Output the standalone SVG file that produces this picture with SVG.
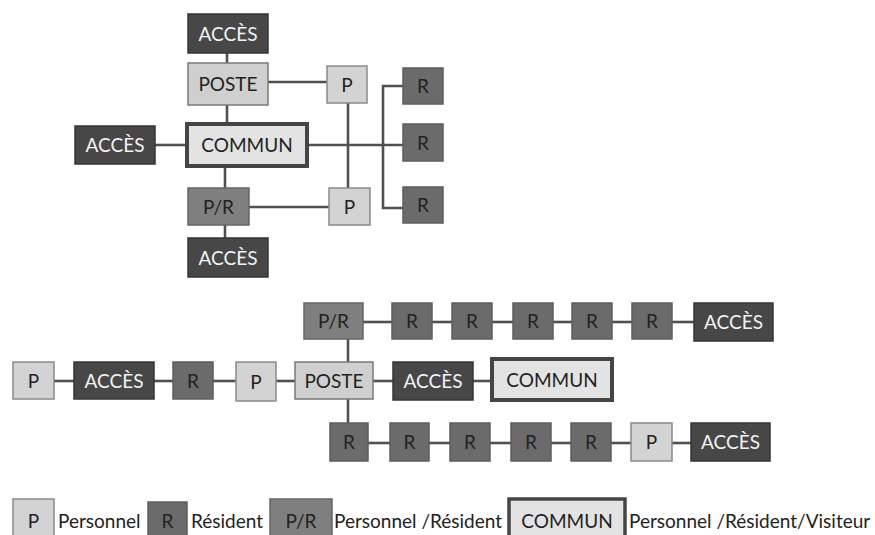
<svg xmlns="http://www.w3.org/2000/svg" width="875" height="535" viewBox="0 0 875 535">
<style>
text{font-family:Lato,"Open Sans","Liberation Sans",sans-serif;font-size:19px;text-anchor:middle;fill:#222}
.acc rect{fill:#474747;stroke:#363636;stroke-width:1.5}
.acc text{fill:#f2f2f2}
.p rect{fill:#d3d3d3;stroke:#8a8a8a;stroke-width:1.5}
.r rect{fill:#6b6b6b;stroke:#5e5e5e;stroke-width:1.5}
.pr rect{fill:#7f7f7f;stroke:#656565;stroke-width:1.5}
.poste rect{fill:#cfcfcf;stroke:#7a7a7a;stroke-width:1.5}
.com rect{fill:#e3e3e3;stroke:#454545;stroke-width:4}
#connectors line,#connectors polyline{stroke:#505050;stroke-width:2.6;fill:none}
.lbl{text-anchor:start}
</style>
<rect width="875" height="535" fill="#ffffff"/>
<g id="connectors">
<line x1="227" y1="53" x2="227" y2="63"/>
<line x1="227" y1="105" x2="227" y2="124"/>
<line x1="225" y1="166" x2="225" y2="188"/>
<line x1="225" y1="225" x2="225" y2="238"/>
<line x1="268" y1="82" x2="327" y2="82"/>
<line x1="348" y1="103" x2="348" y2="188"/>
<line x1="155" y1="145" x2="187" y2="145"/>
<line x1="307" y1="145" x2="403" y2="145"/>
<polyline points="403,86 383,86 383,208 403,208"/>
<line x1="249" y1="207" x2="329" y2="207"/>
<line x1="363" y1="322" x2="392" y2="322"/>
<line x1="432" y1="322" x2="452" y2="322"/>
<line x1="492" y1="322" x2="513" y2="322"/>
<line x1="553" y1="322" x2="572" y2="322"/>
<line x1="612" y1="322" x2="632" y2="322"/>
<line x1="672" y1="322" x2="694" y2="322"/>
<line x1="54" y1="381" x2="74" y2="381"/>
<line x1="154" y1="381" x2="173" y2="381"/>
<line x1="213" y1="381" x2="236" y2="381"/>
<line x1="276" y1="381" x2="295" y2="381"/>
<line x1="373" y1="381" x2="393" y2="381"/>
<line x1="473" y1="381" x2="492" y2="381"/>
<line x1="368" y1="443" x2="390" y2="443"/>
<line x1="429" y1="443" x2="450" y2="443"/>
<line x1="490" y1="443" x2="511" y2="443"/>
<line x1="551" y1="443" x2="571" y2="443"/>
<line x1="611" y1="443" x2="631" y2="443"/>
<line x1="672" y1="443" x2="691" y2="443"/>
<line x1="348" y1="339" x2="348" y2="362"/>
<line x1="348" y1="399" x2="348" y2="423"/>
</g>
<g id="acc1" class="acc"><rect x="188" y="14" width="80" height="39"/><text x="228" y="40.5">ACCÈS</text></g>
<g id="poste1" class="poste"><rect x="188" y="63" width="80" height="42"/><text x="228" y="91">POSTE</text></g>
<g id="p1" class="p"><rect x="327" y="66" width="40" height="37"/><text x="347" y="91.5">P</text></g>
<g id="r1" class="r"><rect x="403" y="68" width="40" height="36"/><text x="423" y="93">R</text></g>
<g id="acc2" class="acc"><rect x="75" y="126" width="80" height="38"/><text x="115" y="152">ACCÈS</text></g>
<g id="commun1" class="com"><rect x="187" y="124" width="120" height="42"/><text x="247" y="152">COMMUN</text></g>
<g id="r2" class="r"><rect x="403" y="124" width="40" height="37"/><text x="423" y="149.5">R</text></g>
<g id="pr1" class="pr"><rect x="188" y="188" width="61" height="37"/><text x="218.5" y="213.5">P/R</text></g>
<g id="p2" class="p"><rect x="329" y="188" width="41" height="37"/><text x="349.5" y="213.5">P</text></g>
<g id="r3" class="r"><rect x="403" y="187" width="40" height="36"/><text x="423" y="212">R</text></g>
<g id="acc3" class="acc"><rect x="188" y="238" width="80" height="39"/><text x="228" y="264.5">ACCÈS</text></g>

<g id="pr2" class="pr"><rect x="304" y="303" width="59" height="36"/><text x="333.5" y="328">P/R</text></g>
<g id="r4" class="r"><rect x="392" y="303" width="40" height="36"/><text x="412" y="328">R</text></g>
<g id="r5" class="r"><rect x="452" y="303" width="40" height="36"/><text x="472" y="328">R</text></g>
<g id="r6" class="r"><rect x="513" y="303" width="40" height="36"/><text x="533" y="328">R</text></g>
<g id="r7" class="r"><rect x="572" y="303" width="40" height="36"/><text x="592" y="328">R</text></g>
<g id="r8" class="r"><rect x="632" y="303" width="40" height="36"/><text x="652" y="328">R</text></g>
<g id="acc4" class="acc"><rect x="694" y="303" width="79" height="38"/><text x="733.5" y="329">ACCÈS</text></g>

<g id="p3" class="p"><rect x="13" y="362" width="41" height="37"/><text x="33.5" y="387.5">P</text></g>
<g id="acc5" class="acc"><rect x="74" y="362" width="80" height="37"/><text x="114" y="387.5">ACCÈS</text></g>
<g id="r9" class="r"><rect x="173" y="362" width="40" height="37"/><text x="193" y="387.5">R</text></g>
<g id="p4" class="p"><rect x="236" y="362" width="40" height="39"/><text x="256" y="388.5">P</text></g>
<g id="poste2" class="poste"><rect x="295" y="362" width="78" height="37"/><text x="334" y="387.5">POSTE</text></g>
<g id="acc6" class="acc"><rect x="393" y="362" width="80" height="38"/><text x="433" y="388">ACCÈS</text></g>
<g id="commun2" class="com"><rect x="492" y="359" width="120" height="41"/><text x="552" y="386.5">COMMUN</text></g>

<g id="r10" class="r"><rect x="330" y="423" width="38" height="38"/><text x="349" y="449">R</text></g>
<g id="r11" class="r"><rect x="390" y="423" width="39" height="38"/><text x="409.5" y="449">R</text></g>
<g id="r12" class="r"><rect x="450" y="423" width="40" height="38"/><text x="470" y="449">R</text></g>
<g id="r13" class="r"><rect x="511" y="423" width="40" height="38"/><text x="531" y="449">R</text></g>
<g id="r14" class="r"><rect x="571" y="423" width="40" height="38"/><text x="591" y="449">R</text></g>
<g id="p5" class="p"><rect x="631" y="423" width="41" height="38"/><text x="651.5" y="449">P</text></g>
<g id="acc7" class="acc"><rect x="691" y="423" width="79" height="38"/><text x="730.5" y="449">ACCÈS</text></g>

<g id="legend">
<g id="leg-p" class="p"><rect x="13" y="499" width="41" height="40"/><text x="33.5" y="528">P</text></g>
<text class="lbl" x="58" y="528">Personnel</text>
<g id="leg-r" class="r"><rect x="148" y="502" width="39" height="37"/><text x="167.5" y="528">R</text></g>
<text class="lbl" x="191" y="528">Résident</text>
<g id="leg-pr" class="pr"><rect x="270" y="499" width="62" height="40"/><text x="301" y="528">P/R</text></g>
<text class="lbl" x="334" y="528">Personnel /Résident</text>
<g id="leg-com" class="com"><rect x="509" y="499" width="116" height="40" style="stroke-width:3.5"/><text x="567" y="528">COMMUN</text></g>
<text class="lbl" x="629" y="528">Personnel /Résident/Visiteur</text>
</g>
</svg>
